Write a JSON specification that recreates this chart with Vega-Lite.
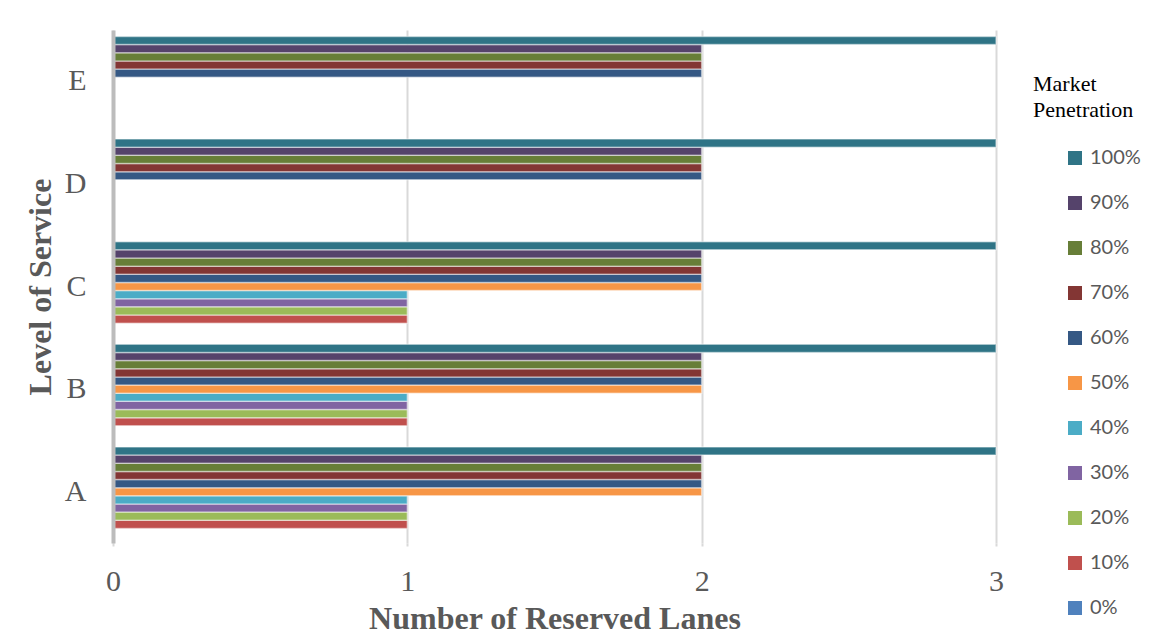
{
  "$schema": "https://vega.github.io/schema/vega-lite/v6.json",
  "description": "Number of reserved lanes by level of service and market penetration",
  "width": 883,
  "height": 513,
  "autosize": {"type": "none"},
  "padding": {"left": 113, "top": 30, "right": 156, "bottom": 94},
  "background": "white",
  "config": {
    "view": {"stroke": null},
    "axis": {"labelFont": "Liberation Serif", "titleFont": "Liberation Serif"}
  },
  "data": {
    "values": [
      {"los": "A", "penetration": "0%", "lanes": 0},
      {"los": "A", "penetration": "10%", "lanes": 1},
      {"los": "A", "penetration": "20%", "lanes": 1},
      {"los": "A", "penetration": "30%", "lanes": 1},
      {"los": "A", "penetration": "40%", "lanes": 1},
      {"los": "A", "penetration": "50%", "lanes": 2},
      {"los": "A", "penetration": "60%", "lanes": 2},
      {"los": "A", "penetration": "70%", "lanes": 2},
      {"los": "A", "penetration": "80%", "lanes": 2},
      {"los": "A", "penetration": "90%", "lanes": 2},
      {"los": "A", "penetration": "100%", "lanes": 3},
      {"los": "B", "penetration": "0%", "lanes": 0},
      {"los": "B", "penetration": "10%", "lanes": 1},
      {"los": "B", "penetration": "20%", "lanes": 1},
      {"los": "B", "penetration": "30%", "lanes": 1},
      {"los": "B", "penetration": "40%", "lanes": 1},
      {"los": "B", "penetration": "50%", "lanes": 2},
      {"los": "B", "penetration": "60%", "lanes": 2},
      {"los": "B", "penetration": "70%", "lanes": 2},
      {"los": "B", "penetration": "80%", "lanes": 2},
      {"los": "B", "penetration": "90%", "lanes": 2},
      {"los": "B", "penetration": "100%", "lanes": 3},
      {"los": "C", "penetration": "0%", "lanes": 0},
      {"los": "C", "penetration": "10%", "lanes": 1},
      {"los": "C", "penetration": "20%", "lanes": 1},
      {"los": "C", "penetration": "30%", "lanes": 1},
      {"los": "C", "penetration": "40%", "lanes": 1},
      {"los": "C", "penetration": "50%", "lanes": 2},
      {"los": "C", "penetration": "60%", "lanes": 2},
      {"los": "C", "penetration": "70%", "lanes": 2},
      {"los": "C", "penetration": "80%", "lanes": 2},
      {"los": "C", "penetration": "90%", "lanes": 2},
      {"los": "C", "penetration": "100%", "lanes": 3},
      {"los": "D", "penetration": "0%", "lanes": 0},
      {"los": "D", "penetration": "10%", "lanes": 0},
      {"los": "D", "penetration": "20%", "lanes": 0},
      {"los": "D", "penetration": "30%", "lanes": 0},
      {"los": "D", "penetration": "40%", "lanes": 0},
      {"los": "D", "penetration": "50%", "lanes": 0},
      {"los": "D", "penetration": "60%", "lanes": 2},
      {"los": "D", "penetration": "70%", "lanes": 2},
      {"los": "D", "penetration": "80%", "lanes": 2},
      {"los": "D", "penetration": "90%", "lanes": 2},
      {"los": "D", "penetration": "100%", "lanes": 3},
      {"los": "E", "penetration": "0%", "lanes": 0},
      {"los": "E", "penetration": "10%", "lanes": 0},
      {"los": "E", "penetration": "20%", "lanes": 0},
      {"los": "E", "penetration": "30%", "lanes": 0},
      {"los": "E", "penetration": "40%", "lanes": 0},
      {"los": "E", "penetration": "50%", "lanes": 0},
      {"los": "E", "penetration": "60%", "lanes": 2},
      {"los": "E", "penetration": "70%", "lanes": 2},
      {"los": "E", "penetration": "80%", "lanes": 2},
      {"los": "E", "penetration": "90%", "lanes": 2},
      {"los": "E", "penetration": "100%", "lanes": 3}
    ]
  },
  "mark": {"type": "bar", "stroke": "white", "strokeOpacity": 0.45, "strokeWidth": 1.5},
  "encoding": {
    "y": {
      "field": "los",
      "type": "nominal",
      "sort": ["E", "D", "C", "B", "A"],
      "scale": {"paddingInner": 0.127, "paddingOuter": 0.063},
      "title": "Level of Service",
      "axis": {
        "zindex": 1,
        "domainColor": "#bcbcbc",
        "domainWidth": 4,
        "ticks": false,
        "labelFontSize": 30,
        "labelColor": "#595959",
        "labelPadding": 27,
        "titleFontSize": 32,
        "titleFontWeight": "bold",
        "titleColor": "#595959",
        "titlePadding": 7
      }
    },
    "yOffset": {
      "field": "penetration",
      "type": "nominal",
      "sort": ["100%", "90%", "80%", "70%", "60%", "50%", "40%", "30%", "20%", "10%", "0%"]
    },
    "x": {
      "field": "lanes",
      "type": "quantitative",
      "scale": {"domain": [0, 3]},
      "title": "Number of Reserved Lanes",
      "axis": {
        "values": [0, 1, 2, 3],
        "domain": false,
        "ticks": true,
        "tickColor": "#d9d9d9",
        "tickWidth": 2,
        "tickSize": 3,
        "grid": true,
        "gridColor": "#d9d9d9",
        "gridWidth": 2,
        "labelFlush": false,
        "labelFontSize": 30,
        "labelColor": "#595959",
        "labelPadding": 20,
        "titleFontSize": 32,
        "titleFontWeight": "bold",
        "titleColor": "#595959",
        "titlePadding": 7
      }
    },
    "color": {
      "field": "penetration",
      "type": "nominal",
      "scale": {
        "domain": ["100%", "90%", "80%", "70%", "60%", "50%", "40%", "30%", "20%", "10%", "0%"],
        "range": ["#2f7486", "#55436b", "#677e38", "#833634", "#355884", "#f79646", "#4bacc6", "#8064a2", "#9bbb59", "#c0504d", "#4f81bd"]
      },
      "legend": {
        "orient": "none",
        "legendX": 920,
        "legendY": 44,
        "padding": 0,
        "title": ["Market", "Penetration"],
        "titleFont": "Liberation Serif",
        "titleFontSize": 22,
        "titleFontWeight": "normal",
        "titleColor": "black",
        "titleLineHeight": 26,
        "titlePadding": 26,
        "labelFont": "Lato",
        "labelFontSize": 20,
        "labelColor": "#595959",
        "labelOffset": 5,
        "symbolType": "square",
        "symbolSize": 196,
        "symbolOffset": 32,
        "symbolStrokeWidth": 0,
        "rowPadding": 25
      }
    }
  }
}
